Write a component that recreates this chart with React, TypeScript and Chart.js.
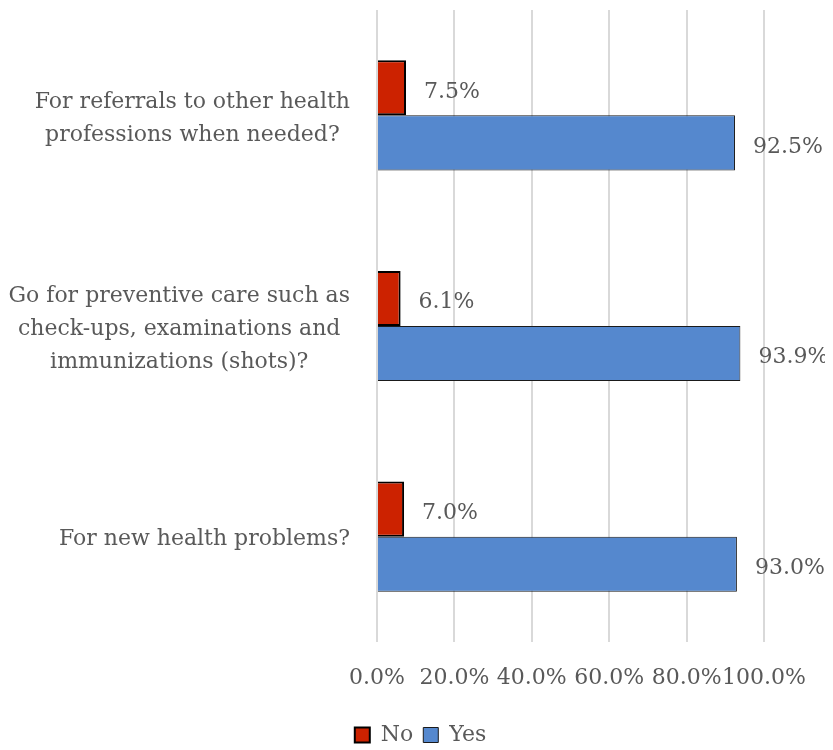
import React, { useEffect, useRef } from "react";
import { Chart, registerables } from "chart.js";

Chart.register(...registerables);

const categories: string[][] = [
  ["For referrals to other health", "professions when needed?"],
  ["Go for preventive care such as", "check-ups, examinations and", "immunizations (shots)?"],
  ["For new health problems?"],
];
const noValues = [7.5, 6.1, 7.0];
const yesValues = [92.5, 93.9, 93.0];
const seriesNames = ["No", "Yes"];
const xTicks = [0, 20, 40, 60, 80, 100];

const FONT = "'DejaVu Serif', serif";
const FS = 22;
const TEXT = "#595959";
const LINE_H = 33;

const catLabelPlugin = {
  id: "catLabels",
  afterDraw(chart: any) {
    const ctx = chart.ctx;
    const y = chart.scales.y;
    ctx.save();
    ctx.font = `${FS}px ${FONT}`;
    ctx.fillStyle = TEXT;
    ctx.textAlign = "center";
    ctx.textBaseline = "middle";
    categories.forEach((lines, i) => {
      const cy = y.getPixelForValue(i);
      const maxW = Math.max(...lines.map((l) => ctx.measureText(l).width));
      const cx = chart.chartArea.left - 27 - maxW / 2;
      lines.forEach((l, j) => {
        ctx.fillText(l, cx, cy + (j - (lines.length - 1) / 2) * LINE_H + 3);
      });
    });
    ctx.restore();
  },
};

const valueLabelPlugin = {
  id: "valueLabels",
  afterDatasetsDraw(chart: any) {
    const ctx = chart.ctx;
    ctx.save();
    ctx.font = `${FS}px ${FONT}`;
    ctx.fillStyle = TEXT;
    ctx.textAlign = "left";
    ctx.textBaseline = "middle";
    chart.data.datasets.forEach((ds: any, di: number) => {
      const meta = chart.getDatasetMeta(di);
      meta.data.forEach((bar: any, i: number) => {
        ctx.fillText(Number(ds.data[i]).toFixed(1) + "%", bar.x + 18, bar.y + 4);
      });
    });
    ctx.restore();
  },
};

export default function App() {
  const ref = useRef<HTMLCanvasElement>(null);
  useEffect(() => {
    if (!ref.current) return;
    const chart = new Chart(ref.current, {
      type: "bar",
      data: {
        labels: categories.map((c) => c.join(" ")),
        datasets: [
          {
            label: seriesNames[0],
            data: noValues,
            backgroundColor: "#CC2200",
            borderColor: "#000000",
            borderWidth: 2,
            categoryPercentage: 0.523,
            barPercentage: 1,
          },
          {
            label: seriesNames[1],
            data: yesValues,
            backgroundColor: "#5588CE",
            borderColor: "#1a1a1a",
            borderWidth: 1,
            categoryPercentage: 0.523,
            barPercentage: 1,
          },
        ],
      },
      options: {
        indexAxis: "y",
        animation: false,
        responsive: true,
        maintainAspectRatio: false,
        layout: { padding: { top: 2, right: 0, left: 0, bottom: -6 } },
        scales: {
          x: {
            min: 0,
            max: 100,
            afterBuildTicks: (s: any) => {
              s.ticks = xTicks.map((v) => ({ value: v }));
            },
            ticks: {
              padding: 3,
              color: TEXT,
              font: { family: FONT, size: FS },
              callback: (v: any) => Number(v).toFixed(1) + "%",
              maxRotation: 0,
              autoSkip: false,
            },
            grid: {
              color: "#d9d9d9",
              lineWidth: 2,
              drawTicks: true,
              tickLength: 20,
              tickColor: "rgba(0,0,0,0)",
            },
            border: { display: false },
            afterFit: (s: any) => {
              s.height = 72;
            },
          },
          y: {
            ticks: { display: false },
            grid: { display: false },
            border: { display: false },
            afterFit: (s: any) => {
              s.width = 369;
            },
          },
          yRight: {
            axis: "y",
            type: "linear",
            position: "right",
            ticks: { display: false },
            grid: { display: false },
            border: { display: false },
            afterFit: (s: any) => {
              s.width = 69;
            },
          },
        },
        plugins: {
          legend: {
            position: "bottom",
            labels: {
              boxWidth: 15,
              boxHeight: 15,
              padding: 10,
              color: TEXT,
              font: { family: FONT, size: FS },
            },
          },
          tooltip: { enabled: false },
        },
      },
      plugins: [catLabelPlugin, valueLabelPlugin],
    });
    return () => chart.destroy();
  }, []);
  return (
    <div style={{ width: 825, height: 742, position: "relative" }}>
      <canvas ref={ref} />
    </div>
  );
}
